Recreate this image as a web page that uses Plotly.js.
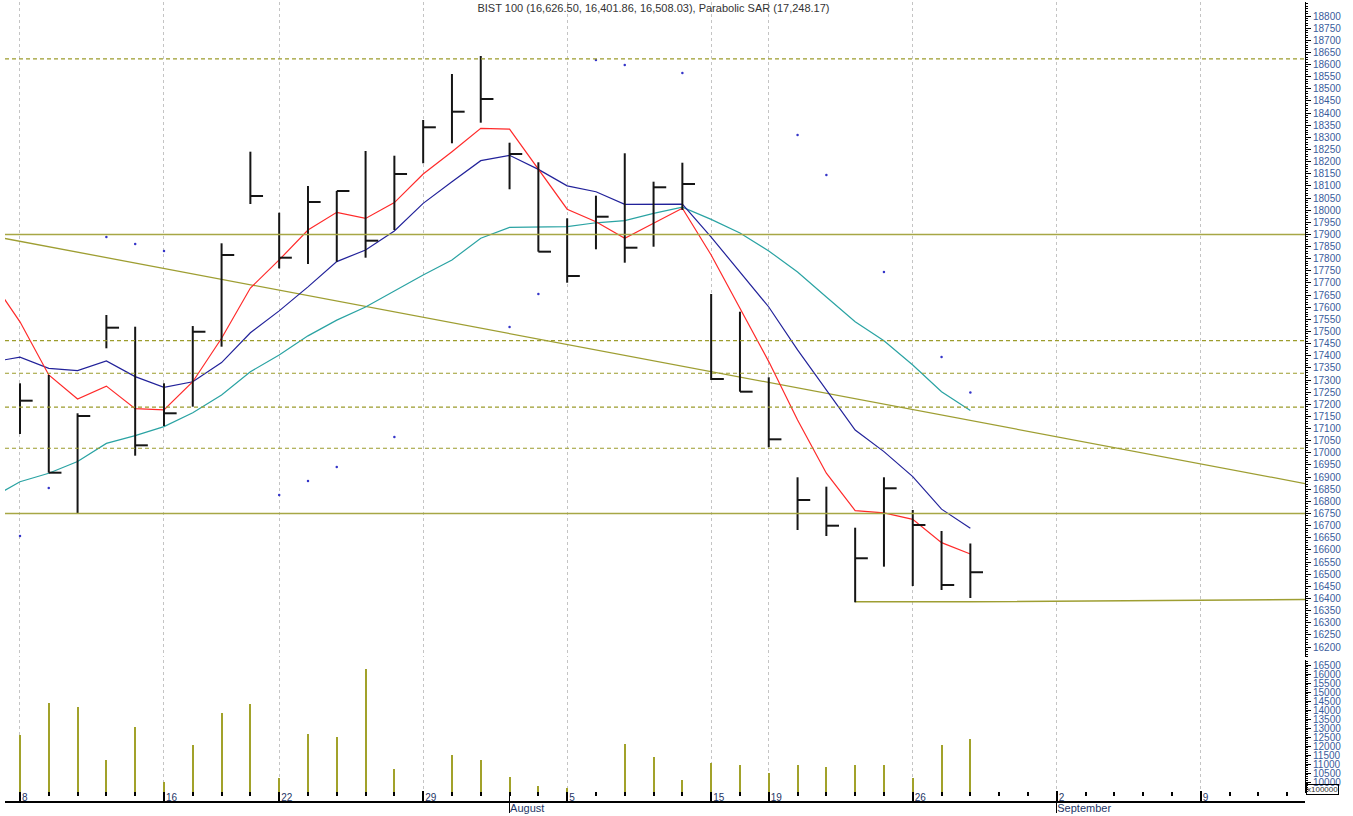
<!DOCTYPE html>
<html><head><meta charset="utf-8">
<script src="https://cdn.plot.ly/plotly-3.0.1.min.js"></script>
<style>html,body{margin:0;padding:0;background:#fff}#chart{width:1353px;height:816px}</style>
</head><body><div id="chart"></div>
<script>
// trading calendar (first entry = prior session used only by moving averages, tail = future sessions)
const calendar = ['2019-07-05','2019-07-08','2019-07-09','2019-07-10','2019-07-11','2019-07-12',
'2019-07-16','2019-07-17','2019-07-18','2019-07-19',
'2019-07-22','2019-07-23','2019-07-24','2019-07-25','2019-07-26',
'2019-07-29','2019-07-30','2019-07-31','2019-08-01','2019-08-02',
'2019-08-05','2019-08-06','2019-08-07','2019-08-08','2019-08-09',
'2019-08-15','2019-08-16',
'2019-08-19','2019-08-20','2019-08-21','2019-08-22','2019-08-23',
'2019-08-26','2019-08-27','2019-08-28','2019-08-29','2019-08-30',
'2019-09-02','2019-09-03','2019-09-04','2019-09-05','2019-09-06',
'2019-09-09','2019-09-10','2019-09-11','2019-09-12','2019-09-13'];
const dates = calendar.slice(1, 35);
const maDates = calendar.slice(0, 35);

const high = [17286.6,17320.8,17163.0,17568.0,17519.8,17286.6,17522.5,17863.4,18240.9,17989.5,18099.5,18079.0,18243.8,18224.4,18371.5,18561.0,18635.2,18278.0,18197.2,17966.4,18059.6,18234.3,18117.3,18195.5,17654.5,17581.6,17311.3,16899.3,16860.6,16691.6,16899.3,16764.5,16678.0,16626.50];
const low  = [17077.7,16918.2,16750.9,17430.8,16988.3,17110.6,17190.2,17437.4,18025.4,17760.0,17778.1,17787.7,17804.1,17918.0,18193.1,18275.5,18360.4,18086.0,17828.9,17701.0,17838.7,17783.5,17849.4,18000.6,17300.2,17252.0,17022.9,16682.1,16657.4,16384.2,16531.0,16451.4,16434.9,16401.86];
const close = [17214.9,16918.2,17151.8,17515.7,17031.0,17163.0,17499.0,17815.2,18058.3,17804.1,18033.6,18079.0,17874.2,18149.0,18341.4,18405.7,18458.0,18231.4,17828.9,17728.7,17973.0,17845.3,18094.2,18107.8,17304.3,17252.0,17055.8,16805.7,16699.8,16565.6,16854.0,16702.7,16455.5,16508.03];

const maRed  = [17714,17540,17321,17222,17275,17182,17177,17293,17472,17679,17795,17918,17991,17966,18031,18149,18241,18337,18334,18168,18004,17952,17884,17946,18008,17815,17597,17376,17135,16916,16762,16753,16726,16630,16583];
const maBlue = [17374,17394,17348,17339,17379,17314,17270,17293,17372,17495,17585,17684,17788,17836,17914,18028,18117,18204,18226,18168,18100,18076,18024,18025,18025,17889,17747,17601,17424,17259,17094,17005,16902,16768,16689];
const maTeal = [16814,16881,16916,16964,17039,17071,17108,17165,17238,17334,17403,17482,17547,17601,17667,17733,17795,17884,17929,17932,17932,17948,17957,17987,18012,17962,17906,17832,17745,17642,17540,17462,17362,17252,17174];

const sar = [16657,16855,null,17889,17861,17832,null,null,null,16826,16884,16942,null,17065,null,null,null,17519,17655,null,18619,18598,null,18565,null,null,null,18310,18145,null,17745,null,17395,17248.17];

const volume = [12611,14372,14150,11222,13039,9983,12039,13817,14317,10222,12650,12483,16278,10722,9450,11483,11222,10294,9778,9667,9450,12094,11372,10111,11072,10928,10483,10928,10817,10928,10928,10239,12039,12372];

const solidLevels = [17900, 16750];
const dashedLevels = [18623, 17462, 17328, 17188, 17019];
const trendDates = ['2019-07-05','2019-09-13'];
const trendVals = [17894, 16865];
const supportDates = ['2019-08-22','2019-08-28','2019-09-13'];
const supportVals = [16386, 16386, 16396];

const weekTickDates = ['2019-07-08','2019-07-16','2019-07-22','2019-07-29','2019-08-05','2019-08-15','2019-08-19','2019-08-26','2019-09-02','2019-09-09'];
const weekTickText = ['8','16','22','29','5','15','19','26','2','9'];
const monthTickDates = ['2019-08-01','2019-09-02'];
const monthTickText = ['August','September'];
const priceTicks = []; for (let v = 16200; v <= 18800; v += 50) priceTicks.push(v);
const volTicks = []; for (let v = 10000; v <= 16500; v += 500) volTicks.push(v);

const pos = d => calendar.indexOf(d);
const xs = dates.map(pos);
const maX = maDates.map(pos);

// HLC bar paths
const barX = [], barY = [];
const tick = 0.44;
xs.forEach((x, i) => {
  barX.push(x, x, null, x, x + tick, null);
  barY.push(low[i], high[i], null, close[i], close[i], null);
});

const shapes = [];
solidLevels.forEach(v => shapes.push({type:'line', xref:'paper', x0:0, x1:1, yref:'y', y0:v, y1:v, line:{color:'#a7a745', width:1.5}}));
dashedLevels.forEach(v => shapes.push({type:'line', xref:'paper', x0:0, x1:1, yref:'y', y0:v, y1:v, line:{color:'#9c9c2c', width:1.2, dash:'4px,3px'}}));

const traces = [
  {type:'scatter', mode:'lines', x:trendDates.map(pos), y:trendVals, line:{color:'#9e9e32', width:1.3}, hoverinfo:'skip'},
  {type:'scatter', mode:'lines', x:supportDates.map(pos), y:supportVals, line:{color:'#9e9e32', width:1.5}, hoverinfo:'skip'},
  {type:'scatter', mode:'lines', x:maX, y:maTeal, line:{color:'#2aa3a3', width:1.2}, name:'MA3'},
  {type:'scatter', mode:'lines', x:maX, y:maBlue, line:{color:'#22229a', width:1.2}, name:'MA2'},
  {type:'scatter', mode:'lines', x:maX, y:maRed, line:{color:'#ff2a2a', width:1.2}, name:'MA1'},
  {type:'scatter', mode:'lines', x:barX, y:barY, line:{color:'#151515', width:2}, connectgaps:false, name:'BIST 100'},
  {type:'scatter', mode:'markers', x:xs, y:sar, marker:{color:'#3434c8', size:2.5}, name:'SAR'},
  {type:'bar', x:xs, y:volume, yaxis:'y2', width:0.07, marker:{color:'#a2a22a', line:{width:0}}, name:'Volume'},
  {type:'scatter', x:[], y:[], xaxis:'x2', yaxis:'y2', hoverinfo:'skip'},
  {type:'scatter', x:[], y:[], xaxis:'x3', yaxis:'y2', hoverinfo:'skip'}
];

const xr = [0.48, 45.62];
const layout = {
  width:1353, height:816,
  margin:{l:5, r:48, t:2, b:14},
  paper_bgcolor:'#fff', plot_bgcolor:'rgba(0,0,0,0)',
  showlegend:false,
  bargap:0,
  font:{family:'Liberation Sans, Arial, sans-serif', size:10, color:'#222'},
  title:{text:'BIST 100 (16,626.50, 16,401.86, 16,508.03), Parabolic SAR (17,248.17)', x:0.483, xanchor:'center', xref:'container', y:0.99, yref:'container', yanchor:'middle', font:{size:11, color:'#333'}},
  xaxis:{range:xr, domain:[0,1], anchor:'free', position:0, showline:true, linecolor:'#000', linewidth:2,
    tickmode:'array', tickvals:weekTickDates.map(pos), ticktext:weekTickText, ticks:'inside', ticklen:10, tickwidth:2, tickcolor:'#000',
    ticklabelposition:'inside right', ticklabelstandoff:-6, tickfont:{size:10, color:'#1e3566'},
    showgrid:true, gridcolor:'#c4c4c4', griddash:'3px,3px', gridwidth:1, zeroline:false, fixedrange:true},
  xaxis2:{range:xr, domain:[0,1], anchor:'free', position:0.0075, showline:false, tickmode:'array', tickvals:calendar.map((d,i)=>i),
    ticks:'inside', ticklen:4, tickwidth:2, tickcolor:'#000', showticklabels:false, showgrid:false, zeroline:false},
  xaxis3:{range:xr, domain:[0,1], anchor:'free', position:0.0125, showline:false, tickmode:'array', tickvals:monthTickDates.map(pos), ticktext:monthTickText,
    ticks:'outside', ticklen:20, tickwidth:1, tickcolor:'#000', ticklabelposition:'outside right', ticklabelstandoff:6, tickfont:{size:11, color:'#1e3566'}, showgrid:false, zeroline:false},
  yaxis:{domain:[0.18125,1], range:[16158.8,18857.7], side:'right', anchor:'x', showline:true, linecolor:'#000', linewidth:1,
    tickmode:'array', tickvals:priceTicks, ticktext:priceTicks.map(String), ticks:'outside', ticklen:5, tickcolor:'#000', tickwidth:1,
    tickfont:{size:10, color:'#3a5c9c'}, showgrid:false, zeroline:false,
    minor:{ticks:'outside', ticklen:2, dtick:10, tick0:0, tickcolor:'#000', showgrid:false}},
  yaxis2:{domain:[0.01125,0.1775], range:[9389,16778], side:'right', anchor:'x', showline:true, linecolor:'#000', linewidth:1,
    tickmode:'array', tickvals:volTicks, ticktext:volTicks.map(String), ticks:'outside', ticklen:5, tickcolor:'#000', tickwidth:1,
    tickfont:{size:10, color:'#3a5c9c'}, showgrid:false, zeroline:false,
    minor:{ticks:'outside', ticklen:2, dtick:100, tick0:0, tickcolor:'#000', showgrid:false}},
  shapes:shapes,
  annotations:[{xref:'paper', yref:'paper', x:1.0008, y:0.0156, xanchor:'left', yanchor:'middle', text:'x100000', showarrow:false,
    font:{size:8, color:'#333'}, bordercolor:'#000', borderwidth:1, borderpad:0}]
};
Plotly.newPlot('chart', traces, layout, {displayModeBar:false, staticPlot:true});
</script></body></html>
